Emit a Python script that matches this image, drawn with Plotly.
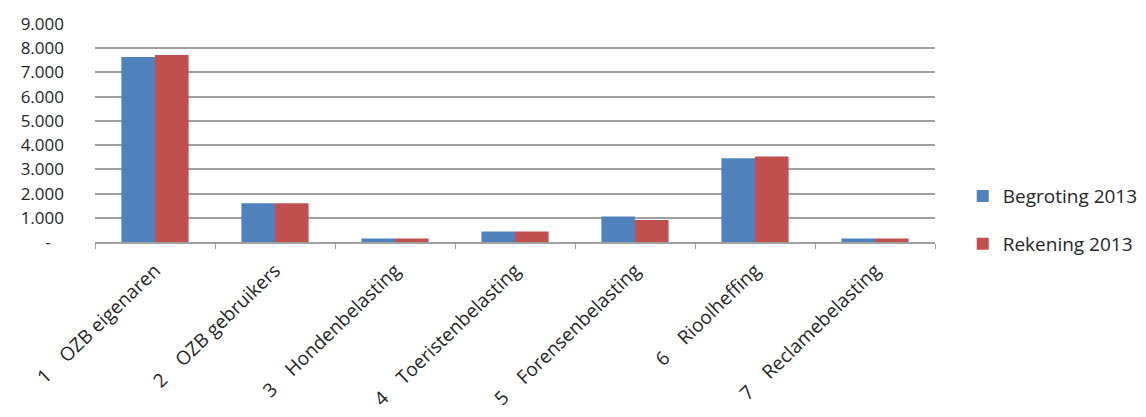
import plotly.graph_objects as go

sp = "\u00a0" * 4
categories = [
    "1" + sp + "OZB eigenaren",
    "2" + sp + "OZB gebruikers",
    "3" + sp + "Hondenbelasting",
    "4" + sp + "Toeristenbelasting",
    "5" + sp + "Forensenbelasting",
    "6" + sp + "Rioolheffing",
    "7" + sp + "Reclamebelasting",
]
begroting = [7640, 1600, 140, 430, 1050, 3460, 140]
rekening = [7720, 1600, 140, 430, 910, 3530, 140]

y_tickvals = [0, 1000, 2000, 3000, 4000, 5000, 6000, 7000, 8000, 9000]
y_ticktext = ["-\u00a0\u00a0\u00a0", "1.000", "2.000", "3.000", "4.000", "5.000",
              "6.000", "7.000", "8.000", "9.000"]

text_color = "#262626"
font_family = "Open Sans, Liberation Sans, sans-serif"

fig = go.Figure()
fig.add_trace(go.Bar(x=categories, y=begroting, name="Begroting 2013",
                     marker=dict(color="#4F81BD", line=dict(width=0)),
                     legendgroup="a"))
fig.add_trace(go.Bar(x=categories, y=rekening, name="Rekening 2013",
                     marker=dict(color="#C0504D", line=dict(width=0)),
                     legendgroup="b"))

fig.update_layout(
    width=1146, height=417,
    margin=dict(l=95, r=211, t=24, b=175, autoexpand=False),
    paper_bgcolor="white", plot_bgcolor="white",
    barmode="group", bargap=0.44, bargroupgap=0,
    font=dict(family=font_family, color=text_color),
    showlegend=True,
    legend=dict(x=1.033, xanchor="left", y=0.1, yanchor="middle",
                font=dict(size=19, color=text_color),
                tracegroupgap=20, itemwidth=30,
                bgcolor="rgba(0,0,0,0)"),
    xaxis=dict(
        tickangle=-44, tickfont=dict(size=19, color=text_color),
        showline=True, linecolor="#a0a0a0", linewidth=2,
        ticks="outside", ticklen=5, tickcolor="#a0a0a0",
        tickson="boundaries", showgrid=False,
        ticklabelstandoff=8,
    ),
    yaxis=dict(
        range=[0, 9000], tickvals=y_tickvals, ticktext=y_ticktext,
        tickfont=dict(size=17, color=text_color),
        showgrid=True, gridcolor="#a0a0a0", gridwidth=2,
        zeroline=False, showline=False, ticks="",
        ticklabelstandoff=30,
    ),
)

fig.write_html("out.html")
